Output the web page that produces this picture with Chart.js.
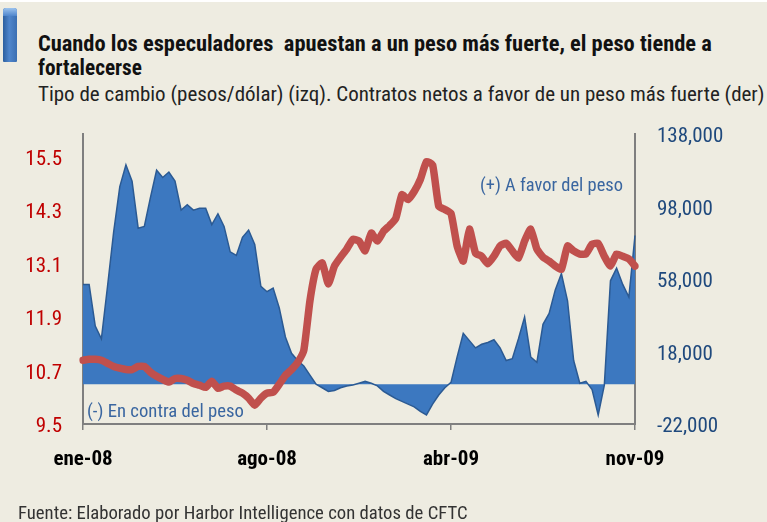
<!DOCTYPE html>
<html>
<head>
<meta charset="utf-8">
<script src="https://cdn.jsdelivr.net/npm/chart.js@4"></script>
<style>
  html, body { margin: 0; padding: 0; }
  body {
    width: 767px; height: 522px; overflow: hidden; position: relative;
    background: #EEECE1;
    font-family: "Roboto Condensed", "DejaVu Sans Condensed", sans-serif;
  }
  .topline { position: absolute; left: 0; top: 0; width: 767px; height: 2px; background: #fff; }
  .icon {
    position: absolute; left: 3px; top: 8px; width: 14px; height: 54px;
    border-radius: 3px 3px 1px 1px;
    background: linear-gradient(90deg, #2C5F9E 0%, #4F86CC 45%, #3B6FB2 100%);
  }
  .icon::before {
    content: ""; position: absolute; left: 0; top: 0; width: 14px; height: 8px;
    border-radius: 3px 3px 0 0;
    background: linear-gradient(180deg, #9CC3EE, #4F86CC);
  }
  .fit { position: absolute; white-space: nowrap; line-height: 1; }
  .title { font-weight: bold; color: #111; }
  .subtitle { color: #222; }
  .note { color: #3A66A0; }
  .footer { color: #333; }
  #wrap { position: absolute; left: 0; top: 0; width: 767px; height: 522px; }
</style>
</head>
<body>
<div class="topline"></div>
<div class="icon"></div>
<div class="fit title" data-w="674" style="left:38px; top:32px;">Cuando los especuladores&nbsp; apuestan a un peso más fuerte, el peso tiende a</div>
<div class="fit title" data-w="104" style="left:38px; top:57px;">fortalecerse</div>
<div class="fit subtitle" data-w="727" style="left:38px; top:84px;">Tipo de cambio (pesos/dólar) (izq). Contratos netos a favor de un peso más fuerte (der)</div>
<div id="wrap"><canvas id="chart"></canvas></div>
<div class="fit note" data-w="143" style="left:480px; top:176px;">(+) A favor del peso</div>
<div class="fit note" data-w="157" style="left:87px; top:402px;">(-) En contra del peso</div>
<div class="fit footer" data-w="450" style="left:18px; top:504px;">Fuente: Elaborado por Harbor Intelligence con datos de CFTC</div>

<script>
/* ── DATA ───────────────────────────────────────── */
// weekly points, ene-08 .. nov-09
const xTickLabels = ["ene-08", "ago-08", "abr-09", "nov-09"];
const xTickIndex = [0, 30, 60, 90];

// tipo de cambio, pesos por dólar (izq)
const exchangeRate = [
  10.93, 10.95, 10.95, 10.93, 10.86, 10.79, 10.75, 10.72, 10.72, 10.79,
  10.79, 10.66, 10.57, 10.50, 10.44, 10.52, 10.52, 10.48, 10.41, 10.37,
  10.32, 10.46, 10.30, 10.35, 10.35, 10.26, 10.19, 10.08, 9.92, 10.08,
  10.19, 10.21, 10.39, 10.59, 10.72, 10.88, 11.15, 12.26, 12.97, 13.11,
  12.64, 13.04, 13.24, 13.42, 13.64, 13.60, 13.38, 13.78, 13.60, 13.82,
  13.95, 14.11, 14.64, 14.53, 14.71, 14.98, 15.38, 15.31, 14.38, 14.31,
  14.22, 13.49, 13.15, 13.87, 13.33, 13.26, 13.09, 13.26, 13.49, 13.55,
  13.38, 13.22, 13.60, 13.87, 13.42, 13.24, 13.15, 13.04, 12.97, 13.49,
  13.38, 13.31, 13.31, 13.53, 13.55, 13.26, 13.04, 13.31, 13.26, 13.20,
  13.04
];

// contratos netos a favor del peso (der)
const netContracts = [
  55000, 55000, 32000, 25000, 54000, 84000, 109000, 121000, 112000, 86000,
  87000, 103000, 118000, 114000, 117000, 112000, 96000, 99000, 96000, 97000,
  97000, 88000, 94000, 87000, 73000, 71000, 81000, 85000, 77000, 54000,
  51000, 53000, 42000, 26000, 17000, 13000, 10000, 5000, 0, -2000,
  -4000, -3500, -2000, -1000, -500, 500, 1500, 500, -1000, -4000,
  -6000, -8000, -9500, -11000, -12500, -15000, -17000, -11000, -6000, -2000,
  1000, 15000, 28000, 24000, 20000, 22000, 23000, 24500, 20000, 13000,
  14000, 25000, 37000, 15000, 12000, 33000, 39000, 52000, 61000, 46000,
  13000, 500, 1500, -3000, -17000, -500, 57000, 64000, 55000, 48000,
  82000
];

const leftTicks = [9.5, 10.7, 11.9, 13.1, 14.3, 15.5];
const rightTicks = [-22000, 18000, 58000, 98000, 138000];

/* ── TEXT FIT (narrow font stand-in) ────────────── */
document.querySelectorAll(".fit").forEach((el) => {
  el.style.fontSize = "20px";
  const w = el.getBoundingClientRect().width;
  el.style.fontSize = (20 * Number(el.dataset.w) / w).toFixed(2) + "px";
});

/* ── CHART ──────────────────────────────────────── */
const FONT = "'Roboto Condensed', 'DejaVu Sans Condensed', sans-serif";
const AXIS_GRAY = "#7F7F7F";

const ctx = document.getElementById("chart").getContext("2d");

new Chart(ctx, {
  type: "line",
  data: {
    labels: exchangeRate.map((_, i) => i),
    datasets: [
      {
        label: "Tipo de cambio",
        data: exchangeRate,
        yAxisID: "y",
        borderColor: "#C0504D",
        borderWidth: 7.5,
        borderCapStyle: "round",
        borderJoinStyle: "round",
        pointRadius: 0,
        tension: 0.15,
        fill: false,
        order: 0,
      },
      {
        label: "Contratos netos",
        data: netContracts,
        yAxisID: "y2",
        borderColor: "#2B5A93",
        borderWidth: 1.5,
        backgroundColor: "#3C78C0",
        pointRadius: 0,
        tension: 0,
        fill: "origin",
        order: 1,
      },
    ],
  },
  options: {
    responsive: true,
    maintainAspectRatio: false,
    animation: false,
    devicePixelRatio: 1,
    layout: { padding: { top: 134, left: 0, right: 0, bottom: 0 } },
    plugins: { legend: { display: false }, tooltip: { enabled: false } },
    scales: {
      x: {
        type: "category",
        offset: false,
        afterFit: (s) => { s.height = 98; },
        afterBuildTicks: (s) => { s.ticks = xTickIndex.map((v) => ({ value: v })); },
        grid: { drawOnChartArea: false, drawTicks: true, tickLength: 6, color: AXIS_GRAY, lineWidth: 1.5 },
        border: { display: true, color: AXIS_GRAY, width: 2 },
        ticks: {
          autoSkip: false,
          maxRotation: 0,
          padding: 17,
          color: "#000",
          font: { family: FONT, size: 21, weight: "bold" },
          callback: (v) => xTickLabels[xTickIndex.indexOf(v)],
        },
      },
      y: {
        position: "left",
        min: 9.5,
        max: 16,
        afterFit: (s) => { s.width = 83; },
        afterBuildTicks: (s) => { s.ticks = leftTicks.map((v) => ({ value: v })); },
        grid: { drawOnChartArea: false, drawTicks: false },
        border: { display: true, color: AXIS_GRAY, width: 2 },
        ticks: {
          padding: 21,
          labelOffset: 3,
          color: "#C00000",
          font: { family: FONT, size: 21 },
          callback: (v) => v.toFixed(1),
        },
      },
      y2: {
        position: "right",
        min: -22000,
        max: 138000,
        afterFit: (s) => { s.width = 132; },
        afterBuildTicks: (s) => { s.ticks = rightTicks.map((v) => ({ value: v })); },
        grid: { drawOnChartArea: false, drawTicks: false },
        border: { display: true, color: AXIS_GRAY, width: 2 },
        ticks: {
          padding: 22,
          labelOffset: 3,
          color: "#1F497D",
          font: { family: FONT, size: 21 },
          callback: (v) => v.toLocaleString("en-US"),
        },
      },
    },
  },
});
</script>
</body>
</html>
